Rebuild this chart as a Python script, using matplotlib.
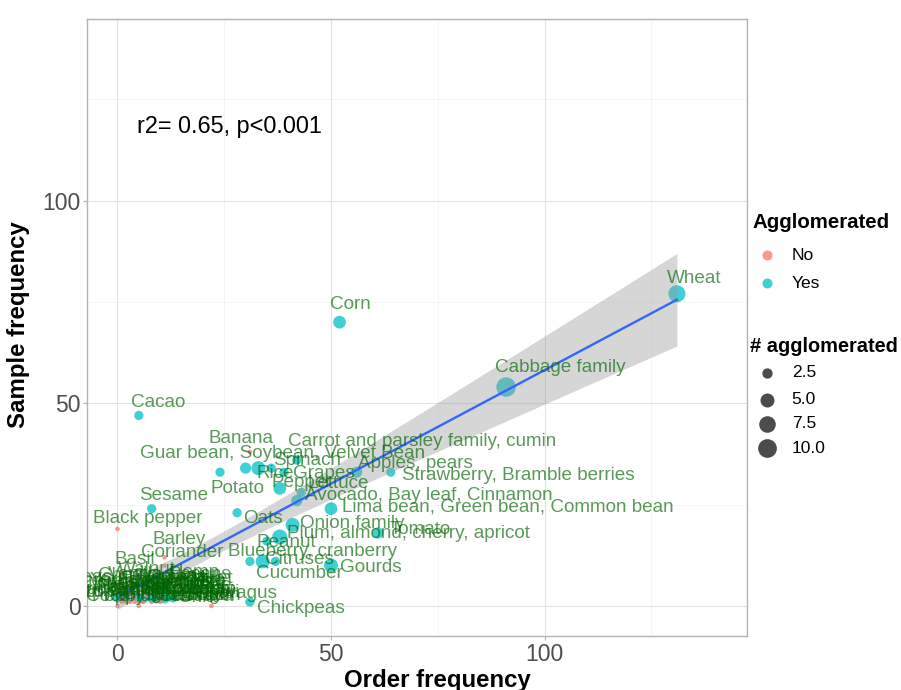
import numpy as np
import matplotlib
matplotlib.use("Agg")
import matplotlib.pyplot as plt
from matplotlib.transforms import offset_copy

plt.rcParams['font.family'] = ['Liberation Sans', 'DejaVu Sans']

# ---- data -------------------------------------------------------------
foods = [
    "Wheat", "Cabbage family", "Corn", "Cacao", "Banana",
    "Carrot and parsley family, cumin", "Guar bean, Soybean, Velvet Bean",
    "Potato", "Spinach", "Rice", "Grapes", "Apples, pears",
    "Strawberry, Bramble berries", "Pepper", "Lettuce",
    "Avocado, Bay leaf, Cinnamon", "Lima bean, Green bean, Common bean",
    "Sesame", "Black pepper", "Oats", "Onion family",
    "Plum, almond, cherry, apricot", "Tomato", "Peanut",
    "Blueberry, cranberry", "Citruses", "Cucumber", "Gourds", "Chickpeas",
    "Barley", "Coriander", "Basil",
    "Yerba mate", "Walnut", "Vanilla", "Pecans", "Asparagus", "Nutmeg",
    "Hazelnut", "Pistachio", "Oregano", "Thyme", "Mint", "Ginger",
    "Sunflower", "Buckwheat", "Lentils", "Olive", "Coffee", "Tea",
    "Mushroom", "Rye", "Flaxseed", "Cashew", "Coconut", "Quinoa",
    "Cloves", "Cardamom", "Turmeric", "Saffron", "Rosemary", "Sage",
    "Hemp", "Poppy seed", "Beetroot", "Cassava", "Chestnut", "Millet",
    "Sorghum", "Lupin", "Mango", "Pineapple", "Fig", "Kiwi", "Chia", "Peas",
]
order_freq = [
    131, 91, 52, 5, 31,
    33, 30,
    24, 42, 36, 39, 56,
    64, 38, 43,
    42, 50,
    8, 0, 28, 41,
    38, 61, 35,
    31, 34, 37, 50, 31,
    11, 11, 1,
    0, 2, 1, 10, 13, 0,
    2, 6, 9, 11, 0, 5,
    22, 3, 7, 12, 4, 8,
    6, 14, 3, 9, 1, 5,
    2, 4, 6, 3, 7, 5,
    9, 8, 4, 10, 1, 7,
    3, 1, 5, 8, 2, 6, 10, 4,
]
sample_freq = [
    77, 54, 70, 47, 38,
    34, 34,
    33, 36, 34, 33, 33,
    33, 29, 28,
    26, 24,
    24, 19, 23, 20,
    17, 18, 16,
    11, 11, 11, 10, 1,
    12, 10, 8,
    3, 4, 5, 4, 2, 2,
    2, 2, 2, 2, 0, 0,
    0, 4, 5, 6, 3, 4,
    6, 5, 6, 7, 1, 5,
    1, 2, 1, 3, 2, 1,
    3, 1, 3, 2, 2, 3,
    1, 3, 2, 2, 3, 3, 1, 1,
]
n_agglomerated = [
    8, 11, 4, 2, 1,
    5, 3,
    2, 2, 2, 2, 3,
    2, 4, 2,
    3, 4,
    2, 1, 2, 5,
    6, 3, 2,
    2, 5, 2, 5, 2,
    1, 1, 1,
    1, 1, 1, 2, 2, 2,
    2, 3, 3, 3, 1, 1,
    1, 1, 2, 1, 1, 1,
    1, 1, 1, 1, 1, 1,
    1, 1, 1, 1, 1, 1,
    1, 1, 1, 1, 1, 1,
    1, 1, 2, 2, 1, 1, 1, 1,
]
agglomerated = ["Yes" if n > 1 else "No" for n in n_agglomerated]

# label placement relative to each point (pixels: right, up)
label_dx = [
    -10, -11, -9.5, -8, -41,
    30, -105.6,
    -9, -24, -15, 9, 1.4,
    11, -8, 6,
    8, 11,
    -12.7, -24.5, 6, 7.4,
    7, 12, -10,
    -22, 2.3, -19.5, 9, 7,
    -11.5, -23.5, -7,
    -27.5, -8, -14, 8, 15, -55,
    -30, -15, -6, 10, -29.5, -17,
    -69, -56, 12.6, 13, -26.6, 44,
    9, 15, -10, 9, -36, 7,
    -46, -34.6, -8, 9.7, -35.4, 47,
    14, -59.7, 10.4, 0, -23.8, 42.6,
    29.7, -37.8, -28.9, -26.7, 74, 62, 17.8, -64.6,
]
label_dy = [
    15, 20, 18, 12.5, 13,
    27, 15,
    -16.7, 0, -5, -1, 9,
    -3, 5.5, 8.5,
    4.6, 1.7,
    12.7, 10, -6, 1,
    4, 4, -1,
    9.4, 1.4, -12.6, -2.5, -7,
    17.4, 12.5, 13.6,
    13.8, 19.8, 11.7, 14.8, 4, 6,
    10, 14, 8, 12, 20, 11,
    10, 0, 3.7, 2, 3, 1,
    -14, 4, 2, -12, 5, 8.7,
    18, 15.9, 24, 5.8, 5.9, 6,
    21.8, 5, 10.8, 1, 21.9, 15.8,
    12, 1.8, 11.9, 7.9, 9.8, 1.8, 4, 24,
]

x = np.array(order_freq, dtype=float)
y = np.array(sample_freq, dtype=float)
n = np.array(n_agglomerated, dtype=float)

TEAL = "#00BFC4"
SALMON = "#F8766D"
colour_map = {"No": SALMON, "Yes": TEAL}


def diameter_px(v, vmin=n.min(), vmax=n.max()):
    # area-proportional size scale
    return 4.5 + 15.0 * np.sqrt((np.asarray(v, float) - vmin) / (vmax - vmin))


def area_pt2(v):
    return (diameter_px(v) * 0.72) ** 2


# ---- figure -----------------------------------------------------------
W, H = 901, 690
fig = plt.figure(figsize=(W / 100, H / 100), dpi=100)

left_px, right_px, top_px, bottom_px = 87, 746.5, 18.5, 636.4
ax = fig.add_axes([left_px / W, 1 - bottom_px / H,
                   (right_px - left_px) / W, (bottom_px - top_px) / H])
ax.set_xlim(-7.14, 147.3)
ax.set_ylim(-7.5, 144.9)

for s in ax.spines.values():
    s.set_color("#b3b3b3")
    s.set_linewidth(1.0)
ax.set_xticks([0, 50, 100])
ax.set_yticks([0, 50, 100])
ax.set_xticks([25, 75, 125], minor=True)
ax.set_yticks([25, 75, 125], minor=True)
ax.grid(which="major", color="#e2e2e2", linewidth=0.8)
ax.grid(which="minor", color="#f1f1f1", linewidth=0.5)
ax.set_axisbelow(True)
ax.tick_params(which="major", length=3, width=0.8, color="#b3b3b3",
               labelsize=16.5, labelcolor="#4d4d4d", pad=1.5)
ax.tick_params(which="minor", length=0)

# points
cols = [colour_map[a] for a in agglomerated]
ax.scatter(x, y, s=area_pt2(n), c=cols, alpha=0.75, linewidths=0, zorder=2)

# linear fit with 95% confidence band
slope, intercept = np.polyfit(x, y, 1)
xs = np.linspace(x.min(), x.max(), 200)
fit = intercept + slope * xs
resid = y - (intercept + slope * x)
dof = len(x) - 2
sigma = np.sqrt(np.sum(resid ** 2) / dof)
z = 1.959964
tq = z + (z ** 3 + z) / (4 * dof)
se = sigma * np.sqrt(1 / len(x) + (xs - x.mean()) ** 2 / np.sum((x - x.mean()) ** 2))
ax.fill_between(xs, fit - tq * se, fit + tq * se, color="#999999", alpha=0.4,
                linewidth=0, zorder=3)
ax.plot(xs, fit, color="#3366FF", linewidth=1.7, zorder=4)

# labels
for name, xi, yi, dx, dy in zip(foods, x, y, label_dx, label_dy):
    tr = offset_copy(ax.transData, fig=fig, x=dx, y=dy, units="dots")
    ax.text(xi, yi, name, transform=tr, ha="left", va="center",
            fontsize=13.6, color="darkgreen", alpha=0.65, clip_on=True,
            zorder=5)

ax.text(0.0, 0.0, "r2= 0.65, p<0.001", fontsize=16.9, color="black",
        ha="left", va="center",
        transform=offset_copy(fig.transFigure, fig=fig, x=137, y=H - 126,
                              units="dots"))

# ---- overlay for titles and legends (pixel coordinates) ----------------
lay = fig.add_axes([0, 0, 1, 1], zorder=-1)
lay.set_xlim(0, W)
lay.set_ylim(H, 0)
lay.axis("off")

lay.text(437, 687, "Order frequency", fontsize=17.3, fontweight="bold",
         ha="center", va="baseline")
lay.text(18.3, 325, "Sample frequency", fontsize=17.3, fontweight="bold",
         ha="center", va="center", rotation=90)

legend_key_x = 767
legend_text_x = 791.7
lay.text(752, 223, "Agglomerated", fontsize=14.7, fontweight="bold",
         ha="left", va="center")
for label, yy in zip(["No", "Yes"], [255, 283]):
    lay.scatter([legend_key_x], [yy], s=(10 * 0.72) ** 2, c=colour_map[label],
                alpha=0.75, linewidths=0)
    lay.text(legend_text_x, yy, label, fontsize=12.5, ha="left", va="center")

lay.text(750, 346, "# agglomerated", fontsize=14.4, fontweight="bold",
         ha="left", va="center")
size_breaks = [2.5, 5.0, 7.5, 10.0]
for v, yy in zip(size_breaks, [372.7, 400, 424, 448.3]):
    lay.scatter([legend_key_x], [yy], s=area_pt2(v), c="black", alpha=0.7,
                linewidths=0)
    lay.text(legend_text_x, yy, f"{v:.1f}", fontsize=12.5, ha="left",
             va="center")

fig.savefig("out.png", dpi=100)
